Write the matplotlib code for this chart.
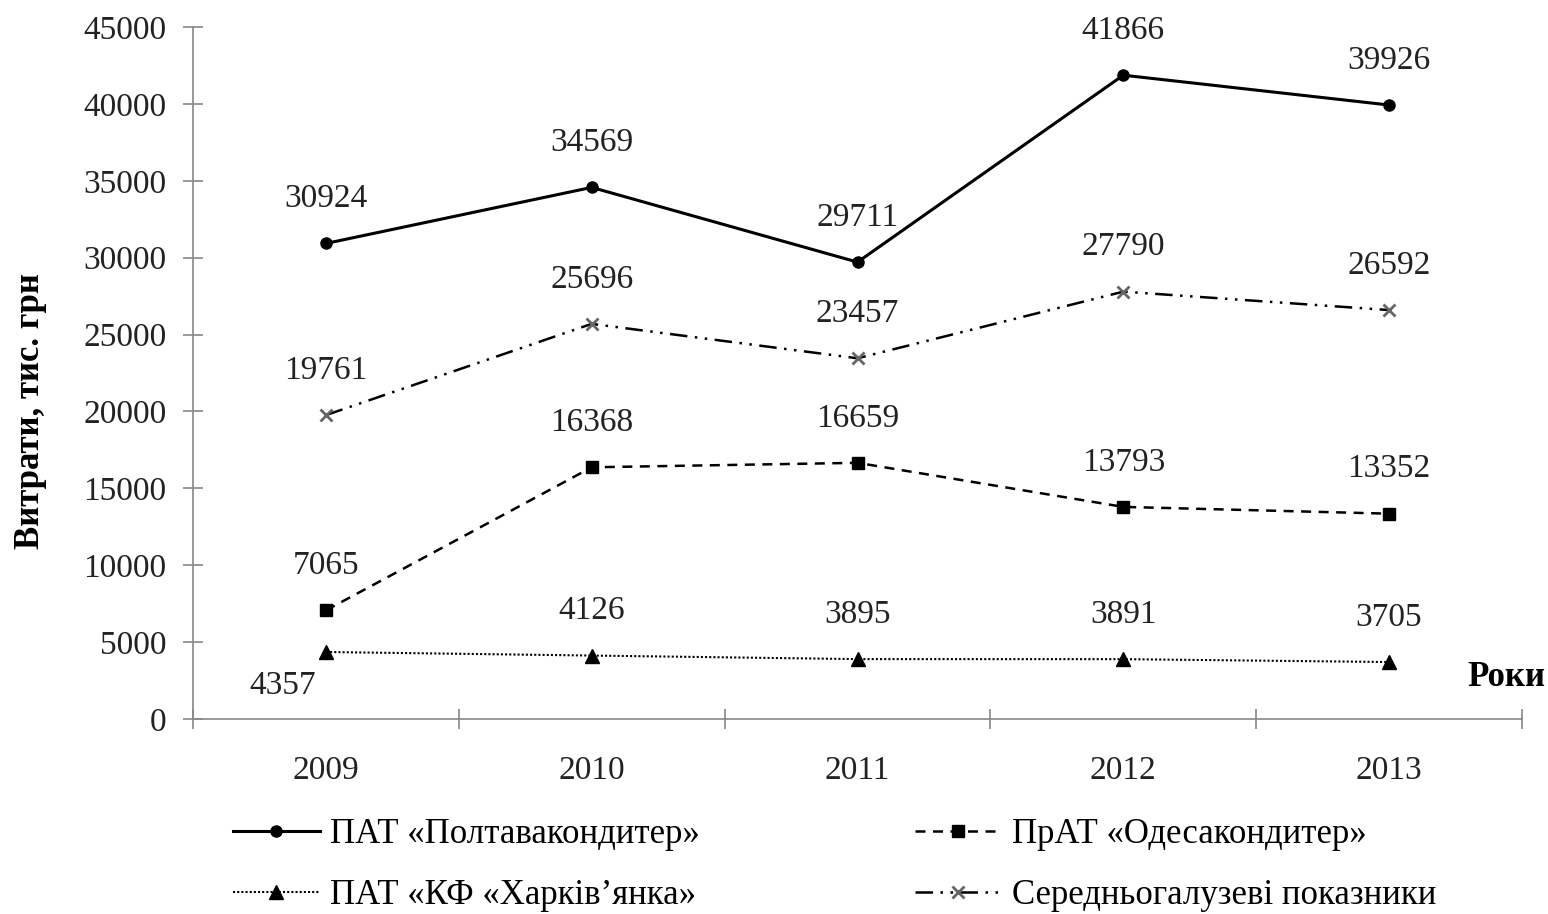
import numpy as np
import matplotlib.pyplot as plt

years = ['2009', '2010', '2011', '2012', '2013']
poltava = [30924, 34569, 29711, 41866, 39926]
odesa = [7065, 16368, 16659, 13793, 13352]
kharkiv = [4357, 4126, 3895, 3891, 3705]
average = [19761, 25696, 23457, 27790, 26592]

plt.rcParams['font.family'] = ['Liberation Serif', 'DejaVu Serif']
FS = 24

fig = plt.figure(figsize=(15.48, 9.14), dpi=100)
ax = fig.add_axes([193 / 1548, 1 - 719 / 914, 1329 / 1548, 692 / 914])

x = np.arange(len(years))

l1, = ax.plot(x, poltava, color='black', lw=2.2, marker='o', ms=8,
              label='ПАТ «Полтавакондитер»')
l2, = ax.plot(x, odesa, color='black', lw=1.8, ls=(0, (4, 3)), marker='s', ms=8,
              label='ПрАТ «Одесакондитер»')
l3, = ax.plot(x, kharkiv, color='black', lw=1.5, ls=(0, (1, 1)), marker='^', ms=10,
              label='ПАТ «КФ «Харків’янка»')
l4, = ax.plot(x, average, color='black', lw=1.8, ls=(0, (7, 3, 1, 3, 1, 3)),
              marker='x', ms=9, mec='#666666', mew=2,
              label='Середньогалузеві показники')

# data labels
for series in (poltava, odesa, average, kharkiv):
    for xi, v in zip(x, series):
        if series is kharkiv and xi == 0:
            off = (-31, -24)
        else:
            off = (0, 32)
        ax.annotate(str(v), (xi, v), xytext=off, textcoords='offset points',
                    ha='center', va='center', fontsize=FS, color='#222222')

ax.set_xlim(-0.5, 4.5)
ax.set_ylim(0, 45000)
ax.set_yticks(np.arange(0, 45001, 5000))
ax.set_xticks(x)
ax.set_xticklabels(years)
ax.set_xticks(np.arange(-0.5, 4.6, 1), minor=True)
ax.tick_params(axis='x', which='major', length=0, pad=26, labelsize=FS, labelcolor='#222222')
ax.tick_params(axis='x', which='minor', direction='inout', length=14, color='#888888', width=1.2)
ax.tick_params(axis='y', direction='inout', length=14, color='#888888', width=1.2,
               labelsize=FS, labelcolor='#222222', pad=12)

for s in ['top', 'right']:
    ax.spines[s].set_visible(False)
for s in ['left', 'bottom']:
    ax.spines[s].set_color('#888888')
    ax.spines[s].set_linewidth(1.2)

ax.set_ylabel('Витрати, тис. грн', fontsize=FS + 1, fontweight='bold')
ax.yaxis.set_label_coords(-0.11, 0.445)
fig.text(1545 / 1548, 1 - 678 / 914, 'Роки', ha='right', va='center',
         fontsize=FS + 1, fontweight='bold')

leg_kw = dict(loc='upper left', frameon=False, fontsize=FS + 1, handlelength=2.5,
              handletextpad=0.3, labelspacing=0.82, borderpad=0, borderaxespad=0)
fig.legend(handles=[l1, l3], bbox_to_anchor=(233 / 1548, 1 - 818 / 914), **leg_kw)
fig.legend(handles=[l2, l4], bbox_to_anchor=(915 / 1548, 1 - 818 / 914), **leg_kw)

fig.savefig('out.png', dpi=100)
